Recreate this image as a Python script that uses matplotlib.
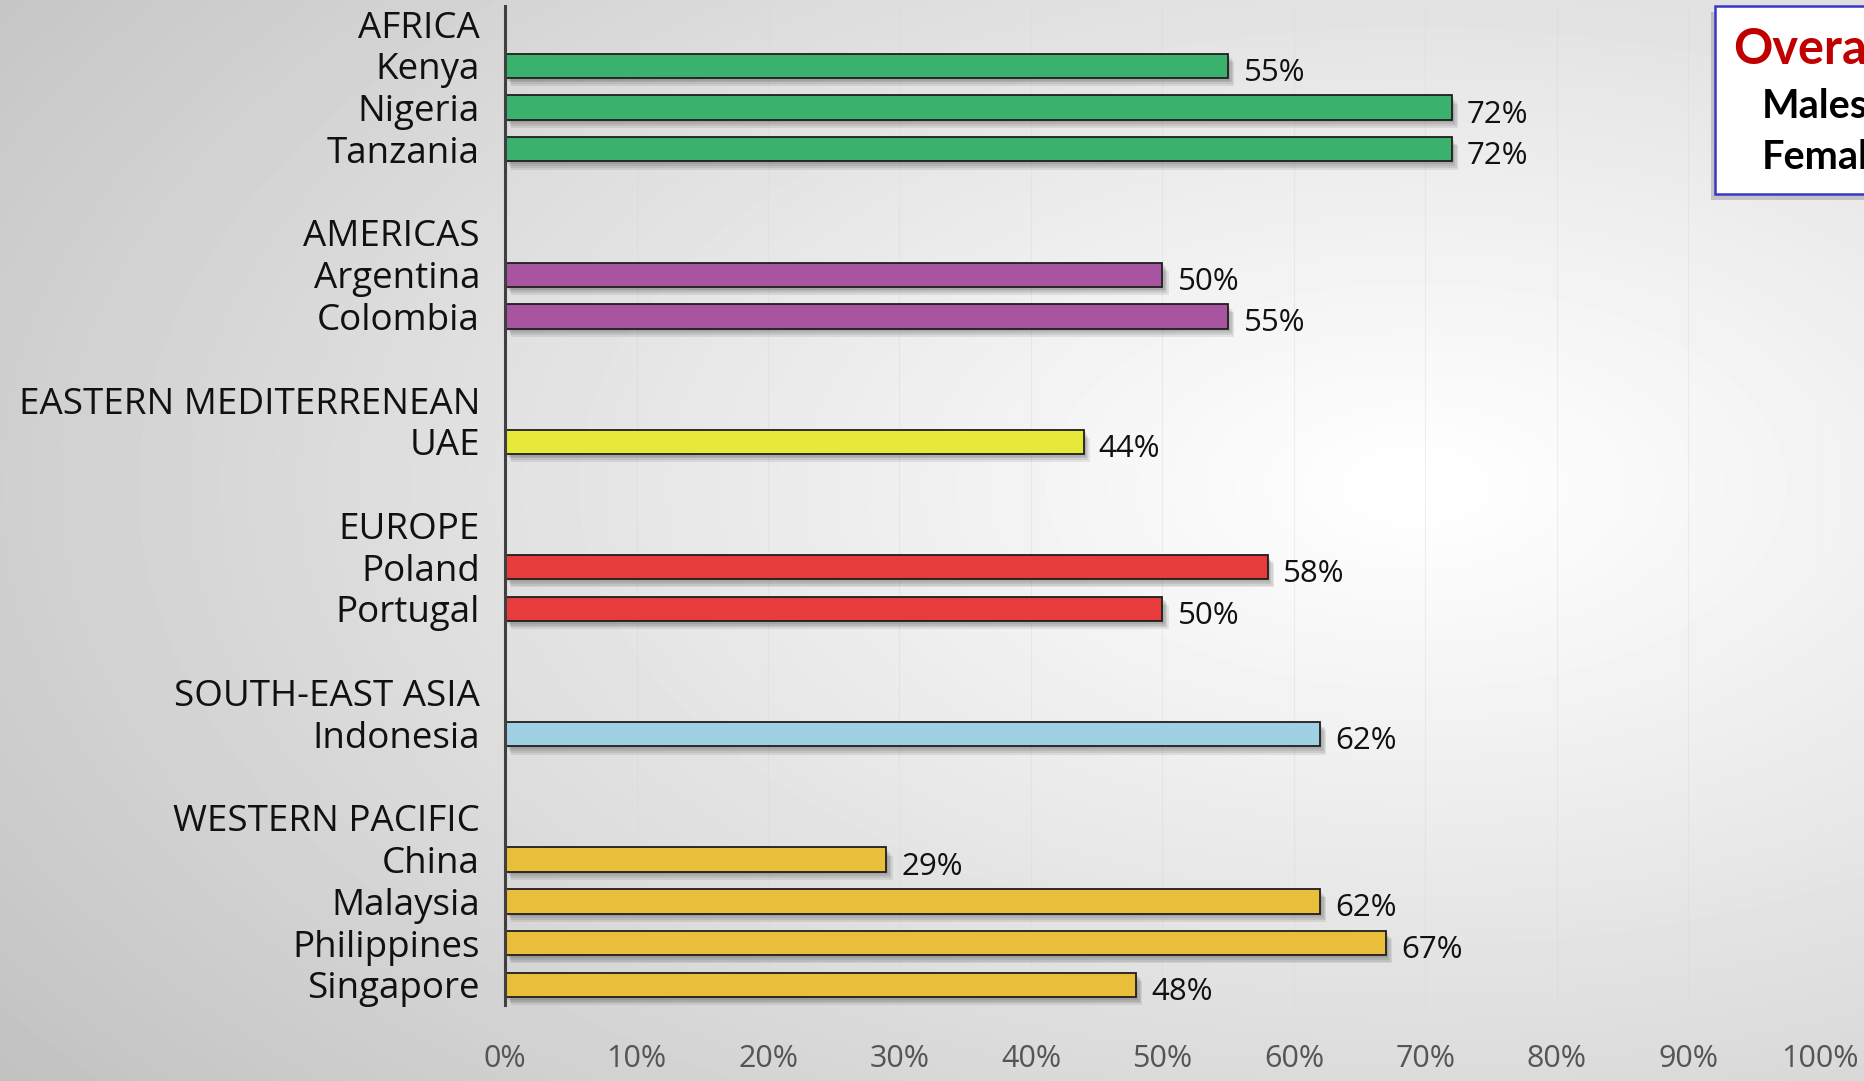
import numpy as np
import matplotlib.pyplot as plt
import matplotlib.patheffects as pe
from matplotlib.patches import Rectangle

# regions, their countries and the share for each country (%)
groups = ["AFRICA", "AMERICAS", "EASTERN MEDITERRENEAN", "EUROPE",
          "SOUTH-EAST ASIA", "WESTERN PACIFIC"]
countries = [
    ["Kenya", "Nigeria", "Tanzania"],
    ["Argentina", "Colombia"],
    ["UAE"],
    ["Poland", "Portugal"],
    ["Indonesia"],
    ["China", "Malaysia", "Philippines", "Singapore"],
]
values = [
    [55, 72, 72],
    [50, 55],
    [44],
    [58, 50],
    [62],
    [29, 62, 67, 48],
]
colors = ["#3AB26E", "#A854A0", "#E8E83A", "#E83C3C", "#A0D0E4", "#E8BE3A"]
xticks = [0, 10, 20, 30, 40, 50, 60, 70, 80, 90, 100]

FONT = "Open Sans"

# lay out rows: region header, its countries, then a blank gap
labels, bar_y, bar_v, bar_c = [], [], [], []
row = 0
for gi, g in enumerate(groups):
    labels.append((row, g))
    row += 1
    for c, v in zip(countries[gi], values[gi]):
        labels.append((row, c))
        bar_y.append(row)
        bar_v.append(v)
        bar_c.append(colors[gi])
        row += 1
    row += 1

fig = plt.figure(figsize=(18.65, 10.81), dpi=100)

# soft radial background
bg = fig.add_axes([0, 0, 1, 1], zorder=-10)
gx, gy = np.meshgrid(np.linspace(0, 1, 400), np.linspace(0, 1, 240))
d = np.sqrt(((gx - 0.76) / 0.95) ** 2 + ((gy - 0.45) / 0.9) ** 2)
shade = np.clip(1 - 0.24 * d ** 1.1, 0, 1)
bg.imshow(shade, cmap="gray", vmin=0, vmax=1, aspect="auto",
          extent=(0, 1, 1, 0), interpolation="bicubic")
bg.set_axis_off()

ax = fig.add_axes([0.2708, 0.0703, 0.705, 0.9241])
ax.set_facecolor("none")

shadow = [pe.SimplePatchShadow(offset=(o, -o * 1.3), shadow_rgbFace="#000000",
                               alpha=0.08) for o in (1.5, 2.5, 3.5, 4.5)]
shadow.append(pe.Normal())
bars = ax.barh(bar_y, bar_v, height=0.58, color=bar_c, edgecolor="#1e1e1e",
               linewidth=1.3, zorder=3)
for b in bars:
    b.set_path_effects(shadow)

for y, v in zip(bar_y, bar_v):
    ax.annotate(f"{v}%", (v, y), textcoords="offset points", xytext=(11, -5),
                ha="left", va="center", fontsize=22.5, family=FONT,
                color="#111111")

ax.set_xlim(0, 100)
ax.set_ylim(23.48, -0.43)
ax.set_yticks([r for r, _ in labels])
ax.set_yticklabels([t for _, t in labels], fontsize=26.5, family=FONT,
                   color="#111111")
ax.set_xticks(xticks)
ax.set_xticklabels([f"{t}%" for t in xticks], fontsize=22, family=FONT,
                   color="#555555")
ax.tick_params(axis="y", length=0, pad=18)
ax.tick_params(axis="x", length=0, pad=28)
ax.grid(axis="x", color="#d9d9d9", linewidth=0.8, alpha=0.4, zorder=0)
for s in ("top", "right", "bottom"):
    ax.spines[s].set_visible(False)
ax.spines["left"].set_color("#404040")
ax.spines["left"].set_linewidth(2.2)
ax.spines["left"].set_zorder(5)

# summary box in the top right corner, running off the edge
box = Rectangle((1715 / 1865, 1 - 194 / 1081), 0.2, 188 / 1081,
                transform=fig.transFigure, facecolor="white",
                edgecolor="#3838C8", linewidth=1.8, zorder=20,
                path_effects=[pe.SimplePatchShadow(offset=(-3, -4), alpha=0.25),
                              pe.Normal()])
fig.add_artist(box)
fig.text(1733 / 1865, 1 - 50 / 1081, "Overall", fontsize=35, weight="bold",
         family="Lato", color="#C00000", va="center", zorder=21)
fig.text(1762 / 1865, 1 - 107 / 1081, "Males", fontsize=28.5, weight="bold",
         family="Lato", color="#000000", va="center", zorder=21)
fig.text(1762 / 1865, 1 - 158 / 1081, "Females", fontsize=28.5, weight="bold",
         family="Lato", color="#000000", va="center", zorder=21)

fig.savefig("out.png", dpi=100)
